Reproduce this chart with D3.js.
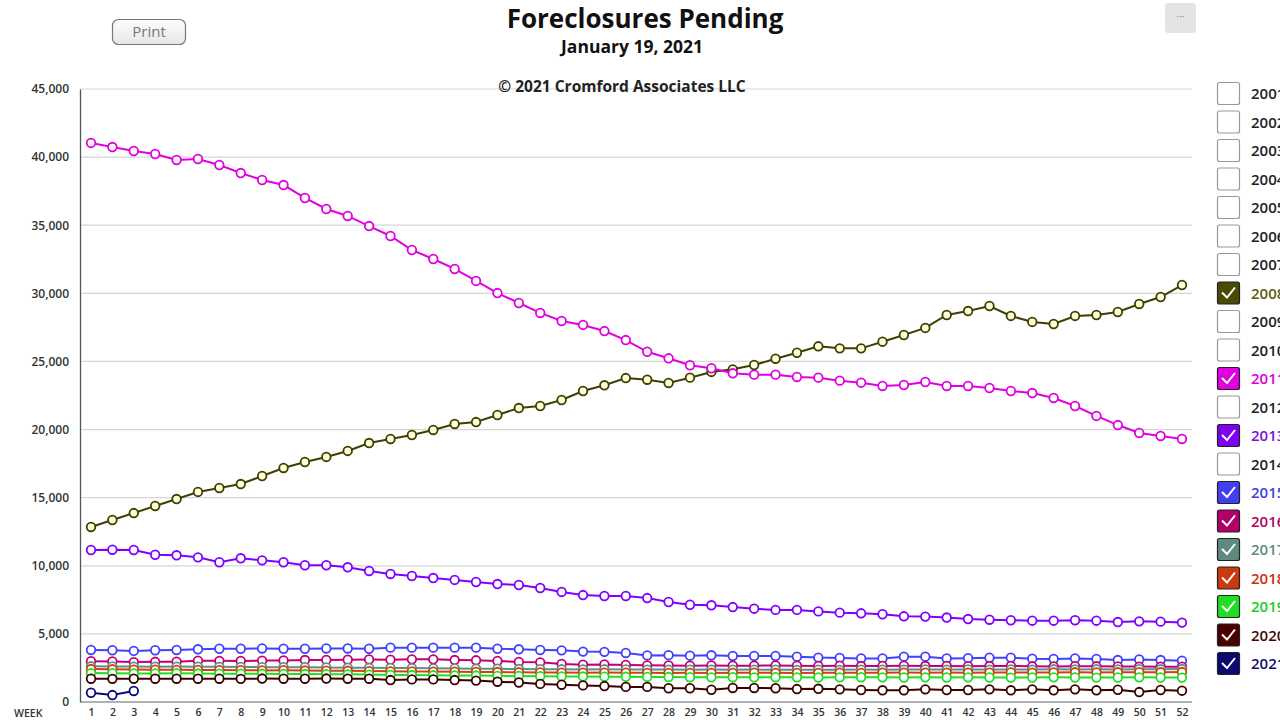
<!DOCTYPE html>
<html><head><meta charset="utf-8">
<script src="https://cdn.jsdelivr.net/npm/d3@7"></script>
<style>
html,body{margin:0;padding:0;background:#fff;overflow:hidden;}
svg{display:block;font-family:"Open Sans",sans-serif;}
</style></head>
<body>
<svg id="chart" width="1280" height="720"></svg>
<script>
const weeks = d3.range(1, 53);
const yTicks = [0, 5000, 10000, 15000, 20000, 25000, 30000, 35000, 40000, 45000];
const legendYears = ["2001","2002","2003","2004","2005","2006","2007","2008","2009","2010","2011","2012","2013","2014","2015","2016","2017","2018","2019","2020","2021"];

const y2008 = [12850,13360,13870,14390,14900,15420,15710,16000,16590,17180,17620,17990,18430,19010,19310,19600,19970,20410,20550,21070,21580,21730,22170,22830,23250,23780,23660,23420,23810,24230,24420,24740,25200,25640,26110,25960,25960,26450,26940,27460,28410,28700,29070,28340,27900,27750,28340,28410,28630,29220,29730,30610];
const y2011 = [41040,40740,40450,40230,39790,39860,39420,38830,38320,37950,37000,36190,35680,34940,34210,33180,32520,31790,30910,30020,29290,28560,27970,27680,27230,26570,25710,25230,24720,24500,24130,24030,24030,23860,23810,23590,23440,23200,23270,23490,23200,23200,23050,22830,22680,22320,21730,21000,20330,19750,19530,19310];
const y2013 = [11160,11180,11160,10810,10770,10620,10260,10550,10400,10260,10040,10040,9890,9620,9400,9250,9100,8960,8810,8660,8590,8370,8080,7850,7780,7780,7630,7340,7140,7100,6970,6850,6760,6760,6650,6560,6510,6440,6290,6270,6200,6090,6040,6000,5970,5970,6000,5970,5870,5920,5900,5830];
const y2015 = [3820,3800,3750,3800,3820,3870,3910,3910,3930,3910,3910,3930,3930,3910,3990,3990,3990,3990,3990,3910,3870,3820,3790,3700,3680,3600,3420,3440,3400,3430,3380,3380,3380,3330,3260,3230,3200,3200,3330,3330,3200,3220,3250,3250,3180,3160,3200,3160,3080,3120,3080,3030];
const y2016 = [2990,2980,2930,2950,2960,3030,3020,3010,3040,3050,3080,3090,3100,3120,3110,3130,3130,3080,3060,3010,2940,2910,2790,2740,2760,2720,2690,2680,2670,2680,2660,2670,2680,2660,2650,2660,2640,2650,2660,2640,2650,2630,2640,2650,2620,2610,2630,2620,2610,2600,2590,2590];
const y2017 = [2620,2610,2600,2590,2600,2590,2580,2570,2560,2560,2550,2540,2520,2510,2500,2490,2470,2460,2450,2440,2420,2410,2400,2390,2400,2390,2380,2380,2370,2380,2370,2380,2370,2360,2370,2360,2380,2370,2380,2390,2380,2390,2380,2390,2380,2400,2390,2400,2390,2410,2400,2420];
const y2018 = [2420,2400,2380,2370,2360,2350,2340,2330,2320,2330,2310,2300,2290,2270,2250,2240,2230,2220,2210,2200,2180,2170,2160,2150,2160,2150,2140,2130,2140,2130,2140,2150,2140,2130,2140,2150,2140,2150,2160,2150,2160,2150,2160,2170,2160,2170,2180,2170,2180,2190,2180,2200];
const y2019 = [2120,2110,2100,2100,2110,2090,2080,2080,2070,2060,2050,2040,2030,2010,1990,1980,1960,1950,1940,1920,1910,1890,1880,1870,1860,1850,1840,1830,1820,1810,1820,1810,1820,1810,1800,1810,1820,1810,1800,1810,1800,1810,1800,1790,1800,1810,1800,1790,1800,1810,1800,1790];
const y2020 = [1710,1700,1710,1710,1710,1710,1710,1700,1720,1710,1710,1720,1710,1710,1610,1660,1660,1610,1570,1490,1430,1330,1270,1220,1170,1110,1110,1010,1010,900,1030,1030,1010,950,970,930,880,860,860,930,880,880,930,860,930,860,930,860,900,730,880,830];
const y2021 = [680,510,810];

const series = [
  {year:"2008", values:y2008, color:"#3f3f00", fill:"#ffffd8", legend:"#4a4a05", text:"#5c5c10"},
  {year:"2011", values:y2011, color:"#e000e0", fill:"#fff", legend:"#e000e0", text:"#d800d8"},
  {year:"2013", values:y2013, color:"#8000ff", fill:"#fff", legend:"#7f00ee", text:"#7a10e0"},
  {year:"2015", values:y2015, color:"#4040ff", fill:"#fff", legend:"#4040f0", text:"#4040e8"},
  {year:"2016", values:y2016, color:"#c0007a", fill:"#fff", legend:"#b0006a", text:"#b00060"},
  {year:"2017", values:y2017, color:"#5f8f88", fill:"#fff", legend:"#5f8a80", text:"#5f8a80"},
  {year:"2018", values:y2018, color:"#d04010", fill:"#fff", legend:"#c83a10", text:"#c83010"},
  {year:"2019", values:y2019, color:"#22dd22", fill:"#fff", legend:"#22dd22", text:"#22cc22"},
  {year:"2020", values:y2020, color:"#3a0000", fill:"#fff", legend:"#4a0000", text:"#400808"},
  {year:"2021", values:y2021, color:"#0a0a80", fill:"#fff", legend:"#0a0a70", text:"#101070"}
];

const svg = d3.select("#chart");
const x = d3.scaleLinear().domain([1, 52]).range([91, 1182]);
const y = d3.scaleLinear().domain([0, 45000]).range([702, 89]);

// grid
svg.append("g").selectAll("line").data(yTicks.filter(d => d > 0)).join("line")
  .attr("x1", 80).attr("x2", 1192)
  .attr("y1", d => y(d)).attr("y2", d => y(d))
  .attr("stroke", "#d6d6d6").attr("stroke-width", 1.2);

// y axis
const yAxis = svg.append("g").attr("transform", "translate(80,0)")
  .call(d3.axisLeft(y).tickValues(yTicks).tickSize(0).tickPadding(11).tickFormat(d3.format(",")));
yAxis.select(".domain").attr("stroke", "#555").attr("stroke-width", 1.3);
yAxis.selectAll("text").attr("font-size", 12).attr("font-weight", 600).attr("fill", "#333")
  .attr("font-family", "'Open Sans',sans-serif");

// x axis
const xAxis = svg.append("g").attr("transform", "translate(0,702)")
  .call(d3.axisBottom(x).tickValues(weeks).tickSize(0).tickPadding(7).tickFormat(d3.format("d")));
xAxis.select(".domain").attr("d", "M80,0H1192").attr("stroke", "#666").attr("stroke-width", 1.2);
xAxis.selectAll("text").attr("font-size", 10.5).attr("font-weight", 600).attr("fill", "#333")
  .attr("font-family", "'Open Sans',sans-serif");
svg.append("text").attr("x", 14).attr("y", 716.5).attr("font-size", 10.5).attr("font-weight", 600)
  .attr("fill", "#333").text("WEEK");

// lines
const line = d3.line().x((d, i) => x(weeks[i])).y(d => y(d));
const g = svg.append("g");
series.forEach(s => {
  const sg = g.append("g");
  sg.append("path").datum(s.values).attr("d", line)
    .attr("fill", "none").attr("stroke", s.color).attr("stroke-width", 2);
  sg.selectAll("circle").data(s.values).join("circle")
    .attr("cx", (d, i) => x(weeks[i])).attr("cy", d => y(d)).attr("r", 4.3)
    .attr("fill", s.fill).attr("stroke", s.color).attr("stroke-width", 1.8);
});

// titles
svg.append("text").attr("x", 645).attr("y", 28).attr("text-anchor", "middle")
  .attr("font-size", 26).attr("font-weight", 700).attr("fill", "#111").text("Foreclosures Pending");
svg.append("text").attr("x", 632).attr("y", 53).attr("text-anchor", "middle")
  .attr("font-size", 17.5).attr("font-weight", 700).attr("fill", "#111").text("January 19, 2021");
svg.append("text").attr("x", 622).attr("y", 92).attr("text-anchor", "middle")
  .attr("font-size", 15.5).attr("font-weight", 700).attr("fill", "#222").text("© 2021 Cromford Associates LLC");

// print button
const grad = svg.append("defs").append("linearGradient").attr("id", "pg").attr("x1", 0).attr("x2", 0).attr("y1", 0).attr("y2", 1);
grad.append("stop").attr("offset", "0%").attr("stop-color", "#fdfdfd");
grad.append("stop").attr("offset", "100%").attr("stop-color", "#e6e6e6");
svg.append("rect").attr("x", 112.5).attr("y", 19.5).attr("width", 73).attr("height", 25).attr("rx", 6)
  .attr("fill", "url(#pg)").attr("stroke", "#777").attr("stroke-width", 1.2);
svg.append("text").attr("x", 149).attr("y", 37).attr("text-anchor", "middle")
  .attr("font-size", 15).attr("fill", "#777").text("Print");

// menu button
svg.append("rect").attr("x", 1165).attr("y", 3).attr("width", 31).attr("height", 30).attr("rx", 3)
  .attr("fill", "#e2e4e6");
svg.append("text").attr("x", 1180.5).attr("y", 20).attr("text-anchor", "middle")
  .attr("font-size", 10).attr("fill", "#888").text("···");

// legend
const sMap = new Map(series.map(s => [s.year, s]));
const lg = svg.append("g");
legendYears.forEach((yr, i) => {
  const yy = 82 + i * 28.5;
  const s = sMap.get(yr);
  const item = lg.append("g");
  if (s) {
    item.append("rect").attr("x", 1217.5).attr("y", yy + 0.5).attr("width", 22).attr("height", 22).attr("rx", 2)
      .attr("fill", s.legend).attr("stroke", "#222").attr("stroke-width", 1.2);
    item.append("path").attr("d", `M${1222},${yy + 11} L${1227},${yy + 16} L${1235},${yy + 6}`)
      .attr("fill", "none").attr("stroke", "#fff").attr("stroke-width", 2);
  } else {
    item.append("rect").attr("x", 1217.5).attr("y", yy + 0.5).attr("width", 22).attr("height", 22).attr("rx", 2)
      .attr("fill", "#fff").attr("stroke", "#999").attr("stroke-width", 1.2);
  }
  item.append("text").attr("x", 1251).attr("y", yy + 17).attr("font-size", 15).attr("font-weight", 600)
    .attr("fill", s ? s.text : "#222").text(yr);
});
</script>
</body></html>
